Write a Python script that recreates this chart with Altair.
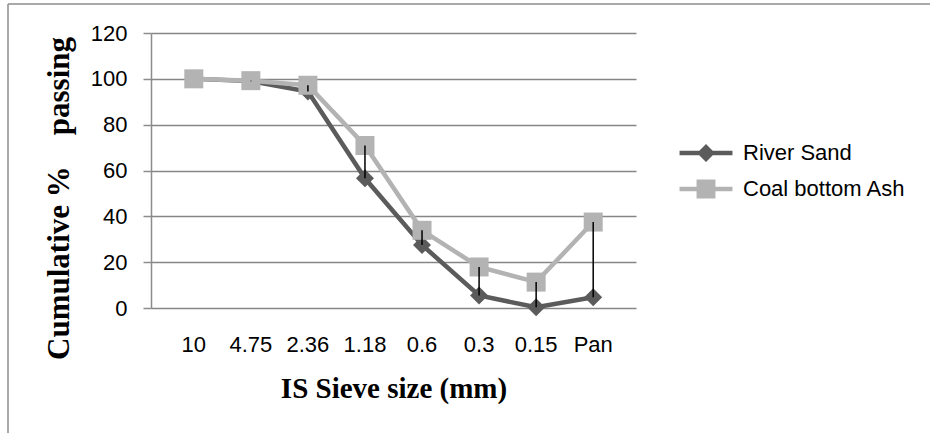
import altair as alt
import pandas as pd

# ---- data ----
sieve_sizes = ["10", "4.75", "2.36", "1.18", "0.6", "0.3", "0.15", "Pan"]
river_sand = [100, 99.0, 94.5, 56.6, 27.5, 5.5, 0.3, 4.7]
coal_ash = [100, 99.2, 97.2, 70.9, 33.9, 17.9, 11.3, 37.5]
series_names = ["River Sand", "Coal bottom Ash"]
series_colors = ["#5b5b5b", "#b3b3b3"]
y_ticks = [0, 20, 40, 60, 80, 100, 120]

long_rows = []
for name, vals in zip(series_names, [river_sand, coal_ash]):
    for s, v in zip(sieve_sizes, vals):
        long_rows.append({"size": s, "value": v, "series": name})
long_df = pd.DataFrame(long_rows)
wide_df = pd.DataFrame({"size": sieve_sizes, "river": river_sand, "coal": coal_ash})

SANS = "Liberation Sans"
SERIF = "Liberation Serif"

x_enc = alt.X(
    "size:N",
    sort=sieve_sizes,
    scale=alt.Scale(domain=sieve_sizes, padding=0.5),
    axis=alt.Axis(
        title="IS Sieve size (mm)",
        titleFont=SERIF, titleFontSize=29, titleFontWeight="bold", titleColor="#000000",
        titleY=89, titleBaseline="alphabetic",
        labelFont=SANS, labelFontSize=22, labelColor="#000000", labelAngle=0,
        labelBaseline="middle", labelPadding=36,
        domain=False, ticks=False, tickSize=0, grid=False,
    ),
)
y_enc = alt.Y(
    "value:Q",
    scale=alt.Scale(domain=[0, 120], nice=False),
    axis=alt.Axis(
        title="Cumulative %\u00a0\u00a0\u00a0 passing",
        titleFont=SERIF, titleFontSize=31, titleFontWeight="bold", titleColor="#000000",
        titleX=-83, titleY=165, titleAlign="center", titleBaseline="alphabetic", titleAngle=270,
        values=y_ticks,
        labelFont=SANS, labelFontSize=22, labelColor="#000000", labelPadding=16,
        domainColor="#8c8c8c", domainWidth=1.5,
        tickColor="#8c8c8c", tickWidth=1.5, tickSize=8,
        grid=True, gridColor="#868686", gridWidth=1.5,
    ),
)

color_scale = alt.Scale(domain=series_names, range=series_colors)
base = alt.Chart(long_df)

layers = []
for name, shape, size in zip(series_names, ["diamond", "square"], [324, 361]):
    sub = base.transform_filter(alt.datum.series == name)
    layers.append(
        sub.mark_line(strokeWidth=4.5).encode(
            x=x_enc, y=y_enc,
            color=alt.Color("series:N", scale=color_scale, legend=None),
        )
    )
    layers.append(
        sub.mark_point(filled=True, opacity=1, shape=shape, size=size).encode(
            x=x_enc, y=y_enc,
            color=alt.Color("series:N", scale=color_scale, legend=None),
        )
    )

# high-low lines between the two series
hilo = alt.Chart(wide_df).mark_rule(color="#000000", strokeWidth=1.5).encode(
    x=alt.X("size:N", sort=sieve_sizes, scale=alt.Scale(domain=sieve_sizes, padding=0.5)),
    y=alt.Y("coal:Q", scale=alt.Scale(domain=[0, 120], nice=False)),
    y2="river:Q",
)

# legend carrier (no visible marks; legend drawn from explicit domain)
river_sym = "M-2.94,-0.25L2.94,-0.25L2.94,0.25L-2.94,0.25Z M0,-1L1,0L0,1L-1,0Z"
coal_sym = "M-2.94,-0.25L2.94,-0.25L2.94,0.25L-2.94,0.25Z M-1.05,-1.05L1.05,-1.05L1.05,1.05L-1.05,1.05Z"
legend_def = alt.Legend(
    title=None, orient="none", legendX=544, legendY=109,
    labelFont=SANS, labelFontSize=22, labelColor="#000000", labelLimit=400,
    symbolSize=324, symbolStrokeWidth=0, labelOffset=26, rowPadding=14,
)
legend_layer = base.transform_filter("false").mark_point(filled=True, opacity=1).encode(
    x=x_enc, y=y_enc,
    color=alt.Color("series:N", scale=alt.Scale(domain=series_names, range=series_colors), legend=legend_def),
    shape=alt.Shape("series:N", scale=alt.Scale(domain=series_names, range=[river_sym, coal_sym]), legend=legend_def),
)

# frame around the picture
frame_df = pd.DataFrame({"k": [0]})
frame_left = alt.Chart(frame_df).mark_rule(color="#8c8c8c", strokeWidth=1.5).encode(
    x=alt.value(-143), y=alt.value(-29), y2=alt.value(405)
)
frame_top = alt.Chart(frame_df).mark_rule(color="#8c8c8c", strokeWidth=1.5).encode(
    x=alt.value(-143), x2=alt.value(785), y=alt.value(-29)
)

chart = alt.layer(*layers, hilo, legend_layer, frame_left, frame_top).resolve_scale(
    shape="independent", color="independent"
).properties(
    width=485, height=275,
    autosize=alt.AutoSizeParams(type="none"),
    padding={"left": 151, "top": 33, "right": 294, "bottom": 125},
    background="#ffffff",
).configure_view(stroke=None)

chart.save("out.html", embed_options={"renderer": "svg", "actions": False})
